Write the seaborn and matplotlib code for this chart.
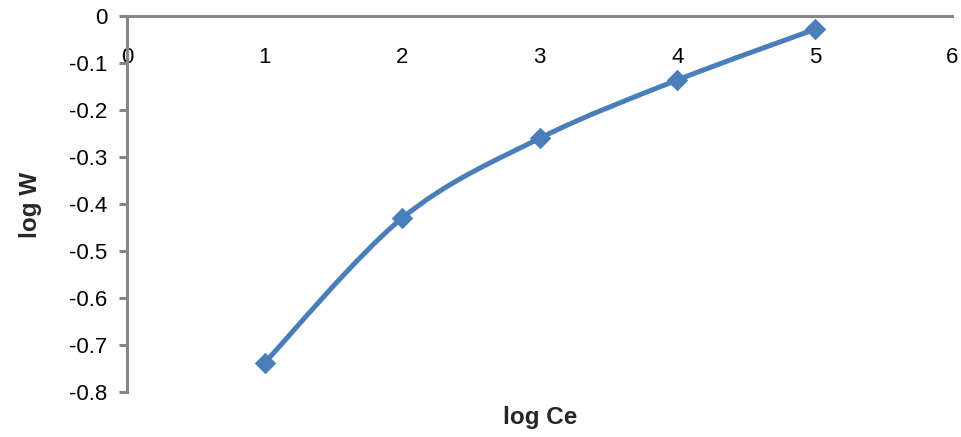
#!/usr/bin/env python3
import matplotlib

matplotlib.use("Agg")
import matplotlib.pyplot as plt
import numpy as np
import pandas as pd
import seaborn as sns
from matplotlib.patches import PathPatch
from matplotlib.path import Path

log_ce = [1, 2, 3, 4, 5]
log_w = [-0.738, -0.43, -0.26, -0.136, -0.028]

x_ticks = [0, 1, 2, 3, 4, 5, 6]
y_ticks = [0, -0.1, -0.2, -0.3, -0.4, -0.5, -0.6, -0.7, -0.8]

line_color = "#4A7EBB"
axis_color = "#868686"


def smooth_path(xs, ys):
    # Excel-style smoothed line: Catmull-Rom segments as cubic Beziers
    pts = np.column_stack([xs, ys]).astype(float)
    verts = [pts[0]]
    codes = [Path.MOVETO]
    n = len(pts)
    for i in range(n - 1):
        p0 = pts[i - 1] if i > 0 else pts[i]
        p1 = pts[i]
        p2 = pts[i + 1]
        p3 = pts[i + 2] if i + 2 < n else pts[i + 1]
        c1 = p1 + (p2 - p0) / 6.0
        c2 = p2 - (p3 - p1) / 6.0
        verts.extend([c1, c2, p2])
        codes.extend([Path.CURVE4] * 3)
    return Path(verts, codes)


def main():
    sns.set_style("white")
    plt.rcParams["font.family"] = ["Liberation Sans", "DejaVu Sans"]

    df = pd.DataFrame({"log Ce": log_ce, "log W": log_w})

    fig = plt.figure(figsize=(9.62, 4.37), dpi=100)
    ax = fig.add_axes([0.132, 0.103, 0.858, 0.860])

    patch = PathPatch(
        smooth_path(df["log Ce"], df["log W"]),
        facecolor="none",
        edgecolor=line_color,
        lw=3.6,
        capstyle="round",
        joinstyle="round",
        zorder=3,
    )
    ax.add_patch(patch)
    sns.scatterplot(
        data=df,
        x="log Ce",
        y="log W",
        marker="D",
        s=120,
        color=line_color,
        edgecolor=line_color,
        linewidth=0,
        zorder=4,
        ax=ax,
    )

    ax.set_xlim(0, 6)
    ax.set_ylim(-0.8, 0)
    ax.set_xticks(x_ticks)
    ax.set_xticklabels([str(t) for t in x_ticks])
    ax.set_yticks(y_ticks)
    ax.set_yticklabels(["0" if t == 0 else f"{t:.1f}" for t in y_ticks])

    # horizontal axis crosses at y = 0 (top of the plot)
    ax.spines["bottom"].set_position(("data", 0))
    ax.spines["top"].set_visible(False)
    ax.spines["right"].set_visible(False)
    for side in ["bottom", "left"]:
        ax.spines[side].set_color(axis_color)
        ax.spines[side].set_linewidth(2.2)

    ax.tick_params(axis="x", bottom=False, length=0, pad=22, labelsize=16,
                   colors="black")
    ax.tick_params(
        axis="y",
        left=True,
        length=6,
        width=2.2,
        color=axis_color,
        direction="out",
        pad=8,
        labelsize=16,
        labelcolor="black",
    )
    ax.grid(False)

    ax.set_xlabel("")
    ax.set_ylabel("")
    fig.text(0.5615, 0.045, "log Ce", ha="center", va="center",
             fontsize=17.5, fontweight="bold")
    fig.text(0.032, 0.53, "log W", ha="center", va="center",
             fontsize=17.5, fontweight="bold", rotation=90)

    fig.savefig("out.png", dpi=100)
    plt.close(fig)


if __name__ == "__main__":
    main()
